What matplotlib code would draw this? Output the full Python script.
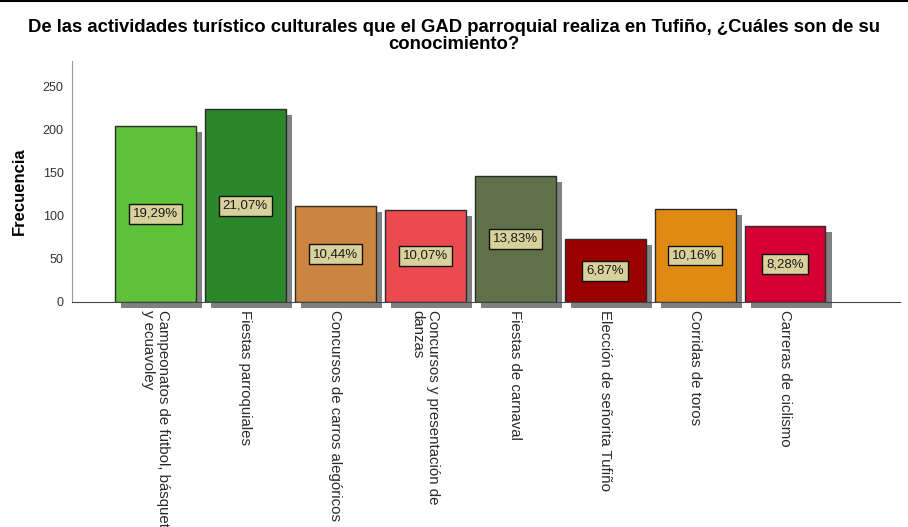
#
# Bar chart: actividades turístico culturales en Tufiño (SPSS style)
#
import matplotlib
matplotlib.use('Agg')
import matplotlib.pyplot as plt
import matplotlib.transforms as mtransforms
from matplotlib.lines import Line2D

# Data
categories = ['Campeonatos de fútbol, básquet\ny ecuavoley',
              'Fiestas parroquiales',
              'Concursos de carros alegóricos',
              'Concursos y presentación de\ndanzas',
              'Fiestas de carnaval',
              'Elección de señorita Tufiño',
              'Corridas de toros',
              'Carreras de ciclismo']
counts = [205, 224, 111, 107, 147, 73, 108, 88]
percent_labels = ['19,29%', '21,07%', '10,44%', '10,07%',
                  '13,83%', '6,87%', '10,16%', '8,28%']
yticks = [0, 50, 100, 150, 200, 250]
colors = ['#5dc13a', '#2a872a', '#cc8540', '#eb4b4e',
          '#5e7149', '#9b0000', '#e08a12', '#d70032']

plt.rcParams['font.family'] = ['Liberation Sans', 'DejaVu Sans']

fig = plt.figure(figsize=(9.08, 5.27), dpi=100)
ax = fig.add_axes([0.0793, 0.427, 0.912, 0.457])

x = list(range(len(categories)))

# drop shadow, offset a few pixels right/down
shadow_tr = ax.transData + mtransforms.ScaledTranslation(0.065, -0.06, fig.dpi_scale_trans)
ax.bar(x, counts, width=0.9, color='#808080', transform=shadow_tr,
       clip_on=False, zorder=1)
ax.bar(x, counts, width=0.9, color=colors, edgecolor='#2b2b2b',
       linewidth=1.0, zorder=2)

for xi, c, lab in zip(x, counts, percent_labels):
    ax.text(xi, c / 2, lab, ha='center', va='center', fontsize=9.5,
            color='#1a1a1a', zorder=3,
            bbox=dict(boxstyle='square,pad=0.3', fc='#d9d19b',
                      ec='#111111', lw=1.0))

ax.set_xlim(-0.927, 8.28)
ax.set_ylim(0, 280)
ax.set_yticks(yticks)
ax.tick_params(axis='y', length=0, labelsize=9, colors='#333333', pad=6)
ax.set_xticks([])

# category labels, rotated to read top-down
label_tr = ax.get_xaxis_transform() + mtransforms.ScaledTranslation(
    0, -0.08, fig.dpi_scale_trans)
for xi, lab in zip(x, categories):
    ax.text(xi, 0, lab, transform=label_tr, rotation=-90, ha='center',
            va='top', multialignment='left', fontsize=10.8,
            color='#2a2a2a', linespacing=1.15, clip_on=False)

for s in ['top', 'right']:
    ax.spines[s].set_visible(False)
ax.spines['left'].set_color('#999999')
ax.spines['bottom'].set_color('#444444')

ax.set_ylabel('Frecuencia', fontsize=12, fontweight='bold')
ax.yaxis.set_label_coords(-0.055, 0.46)

fig.text(0.5, 0.963, 'De las actividades turístico culturales que el GAD parroquial realiza en Tufiño, ¿Cuáles son de su\nconocimiento?',
         ha='center', va='top', fontsize=13.3, fontweight='bold', linespacing=0.98)

# thin frame line at the top of the image
fig.add_artist(Line2D([0, 1], [0.998, 0.998], color='black', lw=1.5,
                      transform=fig.transFigure))

fig.savefig('out.png', dpi=100)
